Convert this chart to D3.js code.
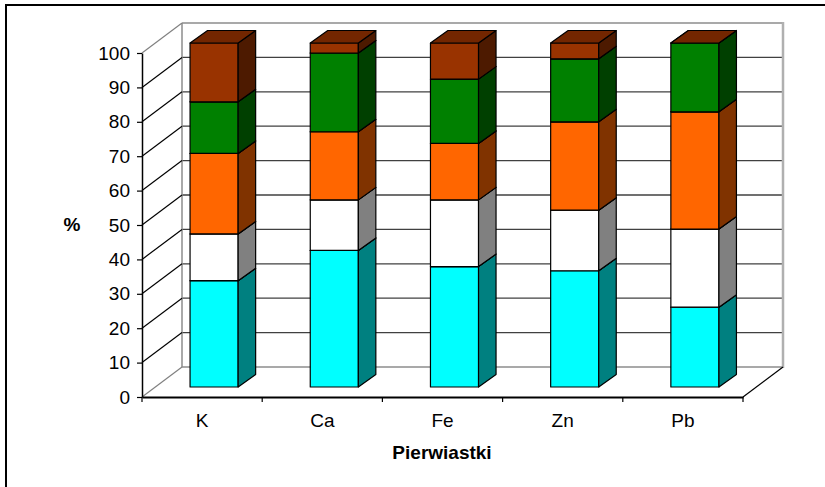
<!DOCTYPE html>
<html>
<head>
<meta charset="utf-8">
<script src="https://cdn.jsdelivr.net/npm/d3@7"></script>
<style>
  html, body { margin: 0; padding: 0; background: #fff; }
  svg { display: block; }
  text { font-family: "Liberation Sans", Arial, sans-serif; fill: #000; }
</style>
</head>
<body>
<svg id="chart" width="825" height="487"></svg>
<script>
// Element categories along the horizontal axis
const categories = ["K", "Ca", "Fe", "Zn", "Pb"];

// Stacked shares (%) per category, bottom to top
const series1 = [30.9, 39.7, 35.0, 33.8, 23.2];
const series2 = [13.6, 14.7, 19.4, 17.6, 22.7];
const series3 = [23.4, 19.8, 16.4, 25.7, 34.1];
const series4 = [15.0, 22.9, 18.7, 18.3, 20.0];
const series5 = [17.1, 2.9, 10.5, 4.6, 0.0];

const yTicks = [0, 10, 20, 30, 40, 50, 60, 70, 80, 90, 100];

const seriesKeys = ["s1", "s2", "s3", "s4", "s5"];
const seriesValues = [series1, series2, series3, series4, series5];
const frontColors = ["#00FFFF", "#FFFFFF", "#FF6600", "#008000", "#993300"];
const sideColors  = ["#008080", "#808080", "#803300", "#004000", "#4D1A00"];
const topColors   = ["#00C0C0", "#C0C0C0", "#C04D00", "#006000", "#732600"];

const rows = categories.map((c, i) => {
  const r = { cat: c };
  seriesKeys.forEach((k, j) => r[k] = seriesValues[j][i]);
  return r;
});
const stacked = d3.stack().keys(seriesKeys)(rows);

const svg = d3.select("#chart");

// Outer chart frame
svg.append("rect").attr("x", 6).attr("y", 5).attr("width", 830).attr("height", 500)
  .attr("fill", "none").attr("stroke", "#000").attr("stroke-width", 2);

// Scales on the front plane
const x = d3.scaleBand().domain(categories).range([142, 743]).padding(0);
const y = d3.scaleLinear().domain([0, 100]).range([397, 53]);

// Depth of the 3-D box
const depthX = 40, depthY = -30;
const x0 = x.range()[0], x1 = x.range()[1];

const g = svg.append("g");

// Back wall gridlines
yTicks.forEach(v => {
  const edge = (v === 0 || v === 100);
  g.append("line")
    .attr("x1", x0 + depthX).attr("x2", x1 + depthX)
    .attr("y1", y(v) + depthY).attr("y2", y(v) + depthY)
    .attr("stroke", edge ? "#8c8c8c" : "#404040").attr("stroke-width", edge ? 1.5 : 1.3);
});
// Back wall vertical edges
g.append("line").attr("x1", x0 + depthX).attr("x2", x0 + depthX)
  .attr("y1", y(100) + depthY).attr("y2", y(0) + depthY)
  .attr("stroke", "#8c8c8c").attr("stroke-width", 1.5);
g.append("line").attr("x1", x1 + depthX).attr("x2", x1 + depthX)
  .attr("y1", y(100) + depthY - 1).attr("y2", y(0) + depthY + 1)
  .attr("stroke", "#b0b0b0").attr("stroke-width", 2.5);

// Side wall diagonals
yTicks.forEach(v => {
  const edge = (v === 0 || v === 100);
  g.append("line")
    .attr("x1", x0).attr("y1", y(v))
    .attr("x2", x0 + depthX).attr("y2", y(v) + depthY)
    .attr("stroke", edge ? "#808080" : "#000").attr("stroke-width", 1.2);
});
// Floor right edge
g.append("line").attr("x1", x1).attr("y1", y(0))
  .attr("x2", x1 + depthX).attr("y2", y(0) + depthY)
  .attr("stroke", "#000").attr("stroke-width", 1.2);

// Bars: front face offset into the box, then side and top faces
const barW = x.bandwidth() * 0.4;
const fx = 12, fy = -10;
const bdx = 17.5, bdy = -12.5;

const bars = g.append("g");
categories.forEach((c, ci) => {
  const xl = x(c) + (x.bandwidth() - barW) / 2 + fx;
  const xr = xl + barW;
  stacked.forEach((layer, si) => {
    const d = layer[ci];
    const yb = y(d[0]) + fy, yt = y(d[1]) + fy;
    const seg = bars.append("g")
      .attr("stroke", "#000").attr("stroke-width", 1.2).attr("stroke-linejoin", "round");
    seg.append("rect").attr("x", xl).attr("y", yt).attr("width", barW).attr("height", yb - yt)
      .attr("fill", frontColors[si]);
    seg.append("polygon")
      .attr("points", [[xr, yb], [xr + bdx, yb + bdy], [xr + bdx, yt + bdy], [xr, yt]].join(" "))
      .attr("fill", sideColors[si]);
    seg.append("polygon")
      .attr("points", [[xl, yt], [xl + bdx, yt + bdy], [xr + bdx, yt + bdy], [xr, yt]].join(" "))
      .attr("fill", topColors[si]);
  });
});

// Y axis
const yAxis = g.append("g").attr("transform", `translate(${x0},0)`)
  .call(d3.axisLeft(y).tickValues(yTicks).tickSize(5).tickSizeOuter(0).tickPadding(7));
yAxis.select(".domain").attr("stroke", "#000").attr("stroke-width", 1.5);
yAxis.selectAll(".tick line").attr("stroke", "#000").attr("stroke-width", 1.2);
yAxis.selectAll("text").attr("font-size", 19).attr("font-family", "'Liberation Sans', Arial, sans-serif");

// X axis with ticks on band boundaries
const xAxis = g.append("g").attr("transform", `translate(0,${y(0)})`)
  .call(d3.axisBottom(x).tickSize(0).tickPadding(17));
xAxis.select(".domain").attr("stroke", "#000").attr("stroke-width", 2.2);
xAxis.selectAll("text").attr("font-size", 19).attr("font-family", "'Liberation Sans', Arial, sans-serif");
const bounds = categories.map(c => x(c)).concat([x1]);
xAxis.selectAll(".bound").data(bounds).join("line").attr("class", "bound")
  .attr("x1", d => d).attr("x2", d => d).attr("y1", 0).attr("y2", 5)
  .attr("stroke", "#000").attr("stroke-width", 1.2);

// Axis titles
svg.append("text").attr("x", 442).attr("y", 459).attr("text-anchor", "middle")
  .attr("font-size", 19).attr("font-weight", "bold").text("Pierwiastki");
svg.append("text").attr("x", 72).attr("y", 231).attr("text-anchor", "middle")
  .attr("font-size", 19).attr("font-weight", "bold").text("%");
</script>
</body>
</html>
